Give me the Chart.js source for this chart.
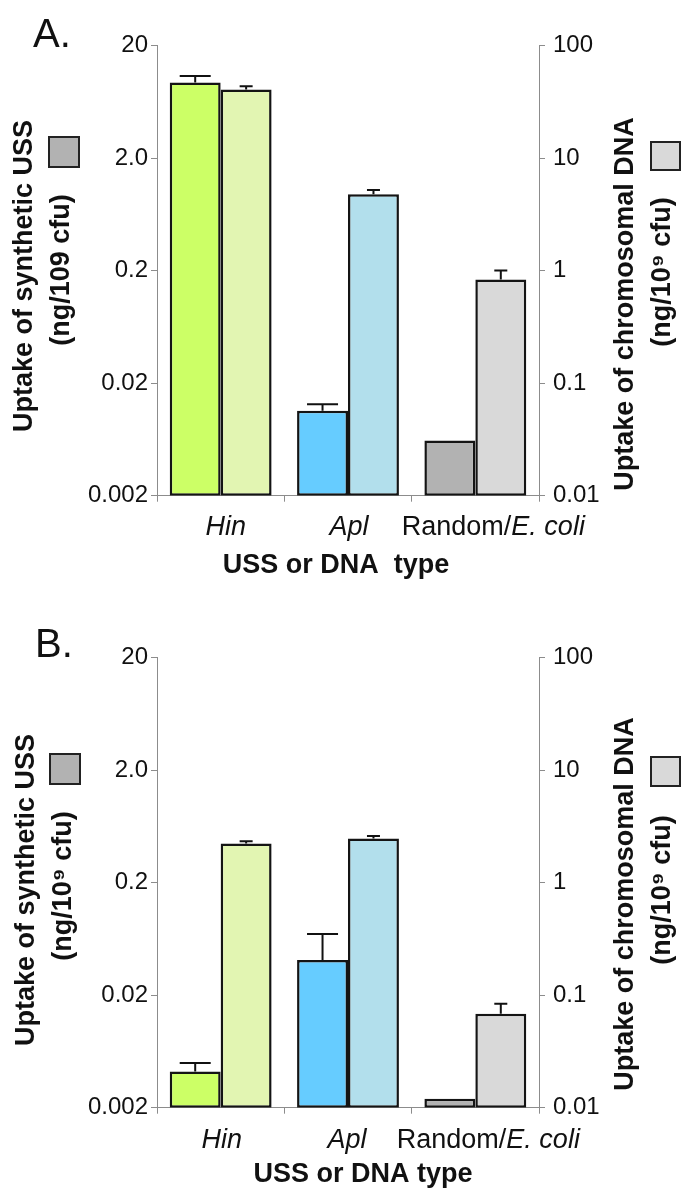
<!DOCTYPE html>
<html><head><meta charset="utf-8">
<script src="https://cdn.jsdelivr.net/npm/chart.js@4"></script>
<style>
html,body{margin:0;padding:0;background:#fff;}
#wrap{position:relative;width:685px;height:1189px;overflow:hidden;}
canvas{position:absolute;left:0;}
</style></head><body>
<div id="wrap">
<canvas id="cA" width="685" height="600" style="top:0px"></canvas>
<canvas id="cB" width="685" height="589" style="top:600px"></canvas>
</div>
<script>
const categories = ['Hin', 'Apl', 'Random/E. coli'];
const ussTicks = [0.002, 0.02, 0.2, 2, 20];
const ussTickLabels = ['0.002', '0.02', '0.2', '2.0', '20'];
const chromTicks = [0.01, 0.1, 1, 10, 100];
const chromTickLabels = ['0.01', '0.1', '1', '10', '100'];

const ussA = [9.4, 0.0114, 0.0062];
const ussErrA = [10.7, 0.013, null];
const chromA = [40.6, 4.78, 0.835];
const chromErrA = [43.5, 5.2, 1.0];

const ussB = [0.0042, 0.041, 0.0024];
const ussErrB = [0.005, 0.07, null];
const chromB = [2.22, 2.46, 0.0685];
const chromErrB = [2.33, 2.6, 0.084];

const ussColors = ['#ccff66', '#66ccff', '#b2b2b2'];
const chromColors = ['#e2f5b2', '#b2dfec', '#d9d9d9'];

const FONT = '"Liberation Sans", Arial, Helvetica, sans-serif';
const AXIS = '#8c8c8c';
const INK = '#111111';

function rotText(c, text, cx, cy) {
  c.save();
  c.translate(cx, cy);
  c.rotate(-Math.PI / 2);
  c.textAlign = 'center';
  c.textBaseline = 'middle';
  c.fillText(text, 0, 0);
  c.restore();
}

function square(c, r, fill) {
  c.save();
  c.fillStyle = fill;
  c.fillRect(r[0], r[1], r[2], r[3]);
  c.strokeStyle = '#222';
  c.lineWidth = 2;
  c.strokeRect(r[0], r[1], r[2], r[3]);
  c.restore();
}

function overlay(cfg) {
  return {
    id: 'overlay' + cfg.letter.replace('.', ''),
    afterDatasetsDraw(chart) {
      const c = chart.ctx;
      const errs = [cfg.ussErr, cfg.chromErr];
      const caps = [31, 13];
      chart.data.datasets.forEach((ds, di) => {
        const meta = chart.getDatasetMeta(di);
        const sc = chart.scales[ds.yAxisID];
        meta.data.forEach((bar, i) => {
          const e = errs[di][i];
          if (e == null) return;
          const yTop = sc.getPixelForValue(e);
          c.save();
          c.strokeStyle = INK;
          c.lineWidth = 2;
          c.beginPath();
          c.moveTo(bar.x, bar.y);
          c.lineTo(bar.x, yTop);
          c.moveTo(bar.x - caps[di] / 2, yTop);
          c.lineTo(bar.x + caps[di] / 2, yTop);
          c.stroke();
          c.restore();
        });
      });
    },
    afterDraw(chart) {
      const c = chart.ctx;
      const L = cfg.lay;
      c.save();
      c.fillStyle = INK;
      c.font = '40px ' + FONT;
      c.textAlign = 'left';
      c.textBaseline = 'alphabetic';
      c.fillText(cfg.letter, L.letter[0], L.letter[1]);
      c.font = 'bold 27px ' + FONT;
      rotText(c, 'Uptake of synthetic USS', L.l1[0], L.l1[1]);
      rotText(c, cfg.leftUnit, L.l2[0], L.l2[1]);
      rotText(c, 'Uptake of chromosomal DNA', L.r1[0], L.r1[1]);
      rotText(c, '(ng/10\u2079 cfu)', L.r2[0], L.r2[1]);
      c.textAlign = 'center';
      c.textBaseline = 'alphabetic';
      c.fillText(cfg.xTitle, L.xt[0], L.xt[1]);
      const xs = chart.scales.x;
      const fi = 'italic 27px ' + FONT, fr = '27px ' + FONT;
      c.textAlign = 'left';
      categories.forEach((lab, i) => {
        const cx = xs.getPixelForValue(i) + L.shift[i];
        let parts;
        if (lab.indexOf('/') >= 0) {
          const k = lab.indexOf('/') + 1;
          parts = [[lab.slice(0, k), fr], [lab.slice(k), fi]];
        } else {
          parts = [[lab, fi]];
        }
        let w = 0;
        parts.forEach(p => { c.font = p[1]; w += c.measureText(p[0]).width; });
        let x = cx - w / 2;
        parts.forEach(p => { c.font = p[1]; c.fillText(p[0], x, L.xl); x += c.measureText(p[0]).width; });
      });
      c.restore();
      square(c, L.sqL, '#b2b2b2');
      square(c, L.sqR, '#d9d9d9');
    }
  };
}

function makePanel(id, cfg) {
  const cv = document.getElementById(id);
  const H = cv.height;
  const L = cfg.lay;
  return new Chart(cv, {
    type: 'bar',
    data: {
      labels: categories,
      datasets: [
        { label: 'Uptake of synthetic USS', data: cfg.uss, yAxisID: 'y',
          backgroundColor: ussColors, borderColor: '#141414', borderWidth: 2.5, borderSkipped: false },
        { label: 'Uptake of chromosomal DNA', data: cfg.chrom, yAxisID: 'y2',
          backgroundColor: chromColors, borderColor: '#141414', borderWidth: 2.5, borderSkipped: false }
      ]
    },
    options: {
      responsive: false, animation: false, devicePixelRatio: 1,
      layout: { padding: { top: L.top, left: 0, right: 0, bottom: 0 } },
      plugins: { legend: { display: false }, tooltip: { enabled: false }, title: { display: false } },
      datasets: { bar: { categoryPercentage: 0.8, barPercentage: 1.0 } },
      scales: {
        x: {
          offset: true,
          grid: { display: true, drawOnChartArea: false, drawTicks: true, tickLength: 6, color: AXIS, offset: true },
          border: { display: true, color: AXIS, width: 1 },
          ticks: { display: false },
          afterFit(s) { s.height = H - L.bottom; }
        },
        y: {
          type: 'logarithmic', position: 'left', min: 0.002, max: 20,
          afterBuildTicks(s) { s.ticks = ussTicks.map(v => ({ value: v })); },
          ticks: { callback: (v, i) => ussTickLabels[i], font: { family: FONT, size: 24 }, color: INK, padding: 3, autoSkip: false },
          grid: { drawOnChartArea: false, tickLength: 6, color: AXIS },
          border: { display: true, color: AXIS, width: 1 },
          afterFit(s) { s.width = 157; }
        },
        y2: {
          type: 'logarithmic', position: 'right', min: 0.01, max: 100,
          afterBuildTicks(s) { s.ticks = chromTicks.map(v => ({ value: v })); },
          ticks: { callback: (v, i) => chromTickLabels[i], font: { family: FONT, size: 24 }, color: INK, padding: 8, autoSkip: false },
          grid: { drawOnChartArea: false, tickLength: 6, color: AXIS },
          border: { display: true, color: AXIS, width: 1 },
          afterFit(s) { s.width = 685 - 539; }
        }
      }
    },
    plugins: [overlay(cfg)]
  });
}

makePanel('cA', {
  letter: 'A.', uss: ussA, ussErr: ussErrA, chrom: chromA, chromErr: chromErrA,
  leftUnit: '(ng/109 cfu)', xTitle: 'USS or DNA  type',
  lay: {
    top: 45.5, bottom: 495.7,
    letter: [33, 47],
    l1: [25, 276], l2: [62, 270],
    r1: [626, 304], r2: [663, 272],
    sqL: [49, 137, 30, 30], sqR: [651, 142, 29, 28],
    xl: 535, shift: [5, 1, 18],
    xt: [336, 573]
  }
});

makePanel('cB', {
  letter: 'B.', uss: ussB, ussErr: ussErrB, chrom: chromB, chromErr: chromErrB,
  leftUnit: '(ng/10\u2079 cfu)', xTitle: 'USS or DNA type',
  lay: {
    top: 57.5, bottom: 507.7,
    letter: [35, 57],
    l1: [27, 290], l2: [64, 286],
    r1: [626, 304], r2: [663, 290],
    sqL: [50, 154, 30, 30], sqR: [651, 157, 29, 29],
    xl: 548, shift: [1, -1, 13],
    xt: [363, 582]
  }
});
</script>
</body></html>
